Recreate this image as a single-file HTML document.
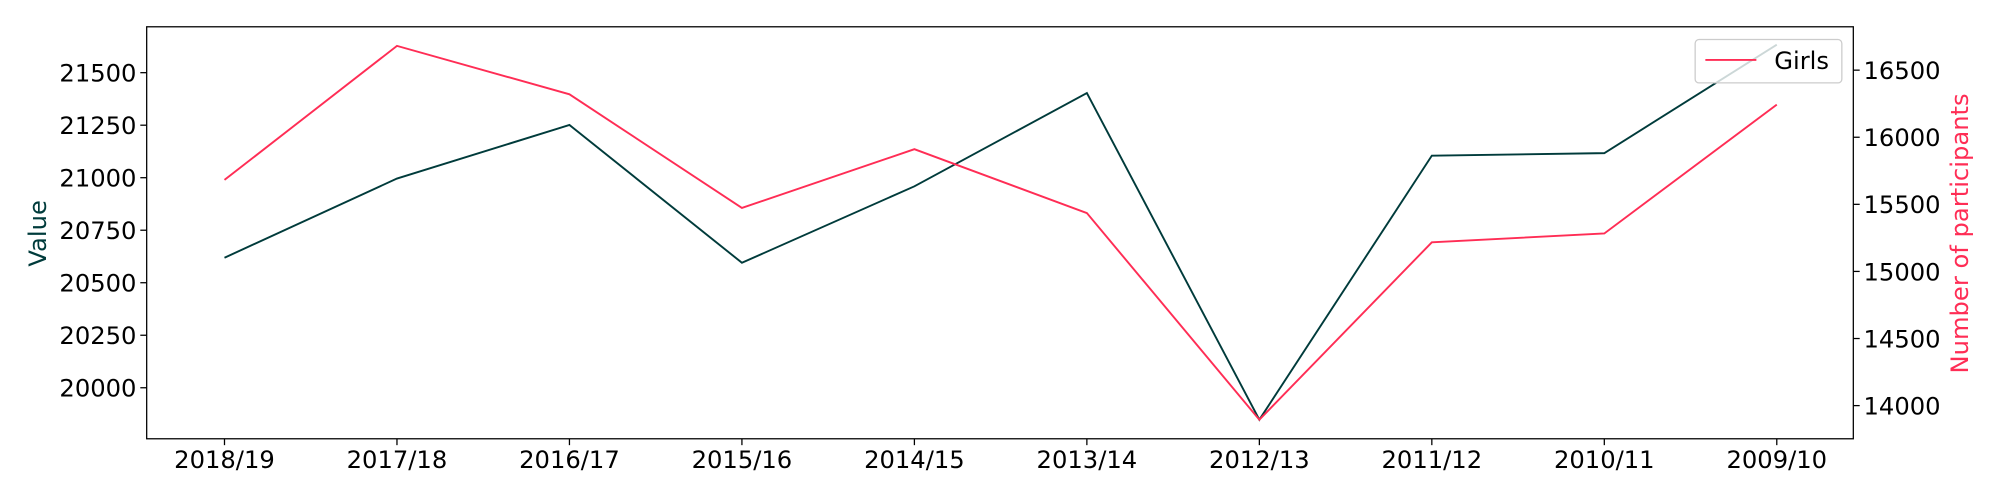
<!DOCTYPE html>
<html><head><meta charset="utf-8"><style>
body{margin:0;background:#fff;}
svg{display:block;}
svg text{font-family:"DejaVu Sans","Liberation Sans",sans-serif;font-size:19px;}
</style></head><body>
<svg id="chart" width="2000" height="500" viewBox="0 0 1568 392" xmlns="http://www.w3.org/2000/svg"></svg>
<script>
const categories=["2018/19","2017/18","2016/17","2015/16","2014/15","2013/14","2012/13","2011/12","2010/11","2009/10"];
const valueSeries=[20619,20996,21251,20595,20959,21403,19848,21105,21117,21633];
const girlsSeries=[15682,16681,16320,15473,15911,15435,13895,15217,15283,16243];
const leftTicks=[20000,20250,20500,20750,21000,21250,21500];
const rightTicks=[14000,14500,15000,15500,16000,16500];
const NS="http://www.w3.org/2000/svg";
const svg=document.getElementById('chart');
const L=115,R=1453,T=21,B=344;
const x=i=>176+i*(1393-176)/(categories.length-1);
const yL=v=>304-(v-20000)/250*41.17;
const yR=v=>318-(v-14000)/500*52.6;
function mk(tag,attrs,parent){const e=document.createElementNS(NS,tag);for(const k in attrs)e.setAttribute(k,attrs[k]);(parent||svg).appendChild(e);return e;}
const frame=mk('rect',{x:L,y:T,width:R-L,height:B-T,fill:'none',stroke:'#000','stroke-width':1});


categories.forEach((c,i)=>{
  const t=mk('line',{x1:x(i),x2:x(i),y1:B,y2:B+5,stroke:'#000'});
  
  
  const lb=mk('text',{x:x(i),y:B+23,'text-anchor':'middle'});lb.textContent=c;
  
  
});
leftTicks.forEach(v=>{
  const t=mk('line',{x1:L-5,x2:L,y1:yL(v),y2:yL(v),stroke:'#000'});
  
  
  const lb=mk('text',{x:L-8,y:yL(v)+7,'text-anchor':'end'});lb.textContent=v;
  
  
});
rightTicks.forEach(v=>{
  const t=mk('line',{x1:R,x2:R+5,y1:yR(v),y2:yR(v),stroke:'#000'});
  
  
  const lb=mk('text',{x:R+8,y:yR(v)+7,'text-anchor':'start'});lb.textContent=v;
  
  
});
const yl=mk('text',{transform:'translate(36,183) rotate(-90)','text-anchor':'middle',fill:'#003b3b'});yl.textContent='Value';


const yr=mk('text',{transform:'translate(1543,183) rotate(-90)','text-anchor':'middle',fill:'#ff2d55'});yr.textContent='Number of participants';


const l1=mk('polyline',{points:valueSeries.map((v,i)=>x(i)+','+yL(v)).join(' '),fill:'none',stroke:'#003b3b','stroke-width':1.5});


const l2=mk('polyline',{points:girlsSeries.map((v,i)=>x(i)+','+yR(v)).join(' '),fill:'none',stroke:'#ff2d55','stroke-width':1.5});


const lg=mk('g',{});


mk('rect',{x:1329,y:31,width:115,height:34,rx:3,fill:'#fff','fill-opacity':0.8,stroke:'#ccc'},lg);
const le=mk('line',{x1:1337,x2:1377,y1:47,y2:47,stroke:'#ff2d55','stroke-width':1.5},lg);


const lt=mk('text',{x:1391,y:54},lg);lt.textContent='Girls';


</script>
</body></html>
